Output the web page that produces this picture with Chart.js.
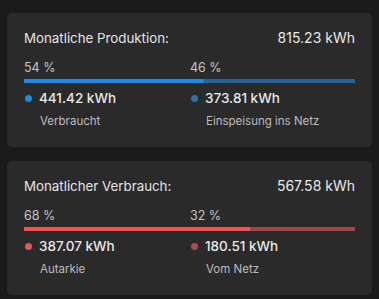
<!DOCTYPE html>
<html>
<head>
<meta charset="utf-8">
<script src="https://cdn.jsdelivr.net/npm/chart.js@4/dist/chart.umd.min.js"></script>
<style>
  html, body { margin: 0; padding: 0; }
  body { width: 379px; height: 299px; background: #1b1b1b; font-family: Inter, "Noto Sans", sans-serif; position: relative; overflow: hidden; }
  .card { position: absolute; left: 7px; width: 365px; height: 134px; background: #2a2a2a; border-radius: 5px; }
  .title { position: absolute; left: 17px; top: 17px; font-size: 13.3px; line-height: 16px; color: #e4e4e4; }
  .total { position: absolute; right: 17px; top: 16px; font-size: 14px; line-height: 17px; color: #e8e8e8; }
  .pct { position: absolute; top: 47px; font-size: 12.5px; line-height: 15px; color: #c4c4c4; }
  .bar { position: absolute; left: 17px; top: 66px; }
  .dot { position: absolute; width: 7px; height: 7px; border-radius: 50%; top: 82px; }
  .val { position: absolute; top: 77px; font-size: 13.5px; line-height: 16px; font-weight: 500; color: #e8e8e8; }
  .lbl { position: absolute; top: 101px; font-size: 11.5px; line-height: 14px; color: #bcbcbc; }
</style>
</head>
<body>
<div class="card" id="card0" style="top:13px"></div>
<div class="card" id="card1" style="top:161px"></div>
<script>
// Monatliche Produktion
const prodTitle = 'Monatliche Produktion:';
const prodTotal = 815.23;
const prodLabels = ['Verbraucht', 'Einspeisung ins Netz'];
const prodValues = [441.42, 373.81];
const prodPercents = [54, 46];
const prodColors = ['#1a8cf0', '#22649f'];
const prodDotColors = ['#1a8cf0', '#2a71b5'];

// Monatlicher Verbrauch
const consTitle = 'Monatlicher Verbrauch:';
const consTotal = 567.58;
const consLabels = ['Autarkie', 'Vom Netz'];
const consValues = [387.07, 180.51];
const consPercents = [68, 32];
const consColors = ['#f05252', '#a04848'];
const consDotColors = ['#f05252', '#a84c4c'];

const colX = [17, 183];

function el(parent, cls, text, style) {
  let d = document.createElement('div');
  d.className = cls;
  if (text) d.textContent = text;
  Object.assign(d.style, style || {});
  parent.appendChild(d);
  return d;
}

function buildCard(id, title, total, labels, values, percents, colors, dotColors) {
  let card = document.getElementById(id);
  el(card, 'title', title);
  el(card, 'total', total.toFixed(2) + ' kWh');

  for (let i = 0; i < labels.length; i++) {
    let x = colX[i];
    el(card, 'pct', percents[i] + ' %', { left: x + 'px' });
    el(card, 'dot', '', { left: (x + 1) + 'px', background: dotColors[i] });
    el(card, 'val', values[i].toFixed(2) + ' kWh', { left: (x + 15) + 'px' });
    el(card, 'lbl', labels[i], { left: (x + 16) + 'px' });
  }

  let canvas = document.createElement('canvas');
  canvas.className = 'bar';
  canvas.width = 331;
  canvas.height = 4;
  card.appendChild(canvas);

  new Chart(canvas.getContext('2d'), {
    type: 'bar',
    data: {
      labels: [''],
      datasets: values.map((v, i) => ({
        data: [v],
        backgroundColor: colors[i],
        borderSkipped: 'middle',
        borderRadius: 2,
        barPercentage: 1,
        categoryPercentage: 1
      }))
    },
    options: {
      indexAxis: 'y',
      responsive: false,
      animation: false,
      layout: { padding: 0 },
      plugins: { legend: { display: false }, tooltip: { enabled: false } },
      scales: {
        x: { stacked: true, display: false, min: 0, max: total },
        y: { stacked: true, display: false }
      }
    }
  });
}

buildCard('card0', prodTitle, prodTotal, prodLabels, prodValues, prodPercents, prodColors, prodDotColors);
buildCard('card1', consTitle, consTotal, consLabels, consValues, consPercents, consColors, consDotColors);
</script>
</body>
</html>
